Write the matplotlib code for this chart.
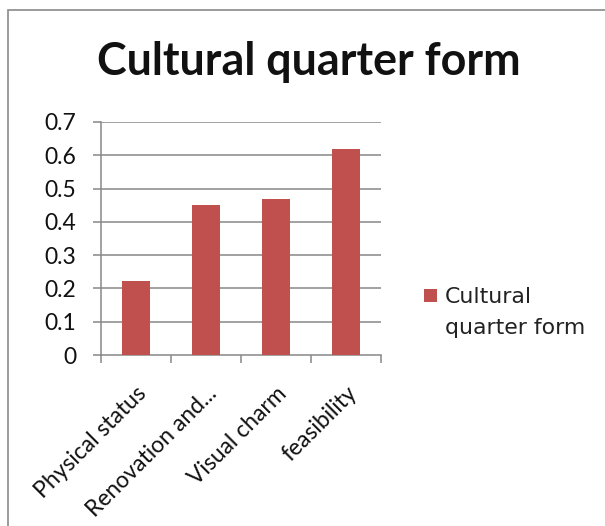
import matplotlib
matplotlib.use("Agg")
import matplotlib.pyplot as plt
from matplotlib.patches import Rectangle
import numpy as np

categories = ["Physical status", "Renovation and...", "Visual charm", "feasibility"]
values = [0.223, 0.451, 0.469, 0.618]
series_name = "Cultural quarter form"
legend_lines = ["Cultural", "quarter form"]
yticks = [0, 0.1, 0.2, 0.3, 0.4, 0.5, 0.6, 0.7]
ytick_labels = ["0", "0.1", "0.2", "0.3", "0.4", "0.5", "0.6", "0.7"]

W, H = 605, 526
fig = plt.figure(figsize=(W / 100, H / 100), dpi=100)
fig.patch.set_facecolor("white")

# chart-area border (left & top visible)
fig.add_artist(Rectangle((8 / W, -0.1), 1.2, 1 - 10 / H + 0.1, transform=fig.transFigure,
                         fill=False, edgecolor="#8a8a8a", linewidth=1.2))

left, right = 101 / W, 381 / W
bottom, top = 1 - 355 / H, 1 - 122 / H
ax = fig.add_axes([left, bottom, right - left, top - bottom])

bar_c = "#C0504D"
grid_c = "#888888"
x = np.arange(len(categories))
ax.bar(x, values, width=0.39, color=bar_c, zorder=3)
ax.set_xlim(-0.5, len(categories) - 0.5)
ax.set_ylim(0, 0.7)
ax.set_yticks(yticks)
ax.set_yticklabels(ytick_labels)
for t in yticks[1:]:
    ax.axhline(t, color=grid_c, linewidth=1.1, zorder=1)

ax.set_xticks(np.arange(len(categories) + 1) - 0.5, minor=False)
ax.set_xticklabels([""] * (len(categories) + 1))
ax.set_xticks(x, minor=True)
ax.set_xticklabels(categories, minor=True, rotation=45, ha="right",
                   rotation_mode="anchor", fontsize=16.5, family="Lato", color="#111111")
ax.tick_params(axis="x", which="minor", length=0, pad=20)
ax.tick_params(axis="x", which="major", length=6, width=1.1, color=grid_c, direction="out")
ax.tick_params(axis="y", length=6, width=1.1, color=grid_c, direction="out",
               labelsize=16.5, labelcolor="#111111", pad=12)
for lab in ax.get_yticklabels():
    lab.set_family("Lato")
    lab.set_horizontalalignment("right")

for s in ["top", "right"]:
    ax.spines[s].set_visible(False)
ax.spines["left"].set_color(grid_c)
ax.spines["bottom"].set_color(grid_c)
ax.spines["left"].set_linewidth(1.1)
ax.spines["bottom"].set_linewidth(1.1)

fig.text(309 / W, 1 - 62 / H, series_name, ha="center", va="center",
         fontsize=32.3, fontweight="bold", family="Lato", color="#111111")

# legend (marker aligned with first text line, as in the reference)
fig.add_artist(Rectangle((424 / W, 1 - 302 / H), 13 / W, 13 / H, transform=fig.transFigure,
                         facecolor=bar_c, edgecolor="none"))
for i, line in enumerate(legend_lines):
    fig.text(445 / W, 1 - (303 + 31 * i) / H, line, ha="left", va="baseline",
             fontsize=15.8, family="DejaVu Sans", color="#222222")

fig.savefig("out.png", dpi=100, facecolor="white")
